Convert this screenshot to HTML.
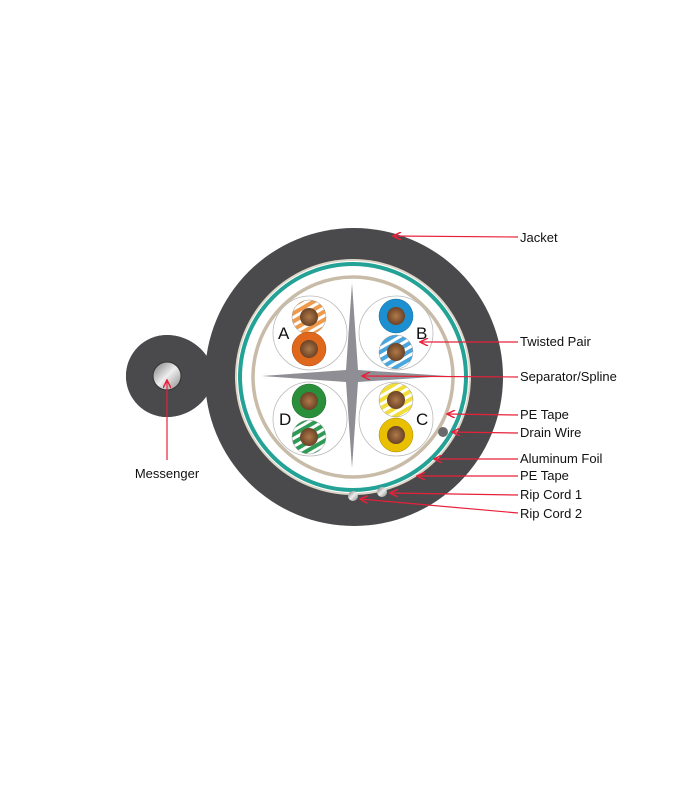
<!DOCTYPE html>
<html><head><meta charset="utf-8"><style>
html,body{margin:0;padding:0;background:#fff;}
svg{display:block;}
text{font-family:"Liberation Sans",sans-serif;}
</style></head><body>
<svg width="700" height="800" viewBox="0 0 700 800" xmlns="http://www.w3.org/2000/svg">
<defs>
<pattern id="stO" width="7" height="7" patternUnits="userSpaceOnUse" patternTransform="rotate(-30)"><rect width="7" height="7" fill="#ef9a4a"/><rect width="7" height="3" fill="#fff"/></pattern>
<pattern id="stB" width="7" height="7" patternUnits="userSpaceOnUse" patternTransform="rotate(-30)"><rect width="7" height="7" fill="#4aa6dc"/><rect width="7" height="3" fill="#fff"/></pattern>
<pattern id="stG" width="7" height="7" patternUnits="userSpaceOnUse" patternTransform="rotate(-30)"><rect width="7" height="7" fill="#2f9a55"/><rect width="7" height="3" fill="#fff"/></pattern>
<pattern id="stY" width="7" height="7" patternUnits="userSpaceOnUse" patternTransform="rotate(-30)"><rect width="7" height="7" fill="#f2de3a"/><rect width="7" height="3" fill="#fff"/></pattern>
<radialGradient id="cu" cx="0.5" cy="0.5" r="0.5"><stop offset="0" stop-color="#b07a4a"/><stop offset="1" stop-color="#6b4326"/></radialGradient>
<linearGradient id="met" x1="0" y1="0" x2="1" y2="1"><stop offset="0" stop-color="#777"/><stop offset="0.5" stop-color="#eee"/><stop offset="1" stop-color="#888"/></linearGradient>
<marker id="ar" markerWidth="10" markerHeight="8" refX="9" refY="4" orient="auto" markerUnits="userSpaceOnUse"><path d="M1,0 L9,4 L1,8" fill="none" stroke="#e8203a" stroke-width="1.5"/></marker>
</defs>
<path d="M167,335 C185,335 200,345 208,358 L208,394 C200,407 185,417 167,417 A41,41 0 0 1 167,335 Z" fill="#4a4a4c"/>
<circle cx="167" cy="376" r="41" fill="#4a4a4c"/>
<circle cx="167" cy="376" r="14" fill="url(#met)" stroke="#333" stroke-width="1"/>
<circle cx="354" cy="377" r="149" fill="#4a4a4c"/>
<circle cx="353" cy="377" r="118" fill="#ddd6c8"/>
<circle cx="353" cy="377" r="116" fill="#fff"/>
<circle cx="353" cy="377" r="113" fill="none" stroke="#23a295" stroke-width="4"/>
<circle cx="353" cy="377" r="100" fill="none" stroke="#c8bca8" stroke-width="3.5"/>
<g fill="none" stroke="#bbb" stroke-width="0.8">
<circle cx="310" cy="333" r="37"/><circle cx="396" cy="333" r="37"/>
<circle cx="310" cy="419" r="37"/><circle cx="396" cy="419" r="37"/>
</g>
<path d="M352,283 L358,370 L447,376 L358,382 L352,468 L346,382 L262,376 L346,370 Z" fill="#8e8e94"/>
<g stroke="#999" stroke-width="0.5">
<circle cx="309" cy="317" r="17" fill="url(#stO)"/>
<circle cx="309" cy="349" r="17" fill="#e0681c" stroke="#a84510"/>
<circle cx="396" cy="316" r="17" fill="#1b8fd0" stroke="#0d6aa0"/>
<circle cx="396" cy="352" r="17" fill="url(#stB)"/>
<circle cx="309" cy="401" r="17" fill="#2a8f3a" stroke="#1c6a28"/>
<circle cx="309" cy="437" r="17" fill="url(#stG)"/>
<circle cx="396" cy="400" r="17" fill="url(#stY)"/>
<circle cx="396" cy="435" r="17" fill="#e8c000" stroke="#a88600"/>
</g>
<g fill="url(#cu)">
<circle cx="309" cy="317" r="9"/><circle cx="309" cy="349" r="9"/>
<circle cx="396" cy="316" r="9"/><circle cx="396" cy="352" r="9"/>
<circle cx="309" cy="401" r="9"/><circle cx="309" cy="437" r="9"/>
<circle cx="396" cy="400" r="9"/><circle cx="396" cy="435" r="9"/>
</g>
<g font-size="17" fill="#111">
<text x="278" y="339">A</text><text x="416" y="339">B</text>
<text x="279" y="425">D</text><text x="416" y="425">C</text>
</g>
<circle cx="443" cy="432" r="5" fill="#6a6a6c"/>
<circle cx="353" cy="496" r="5" fill="url(#met)"/>
<circle cx="382" cy="492" r="5" fill="url(#met)"/>
<g stroke="#e8203a" stroke-width="1.2" fill="none" marker-end="url(#ar)">
<line x1="518" y1="237" x2="393" y2="236"/>
<line x1="518" y1="342" x2="420" y2="342"/>
<line x1="518" y1="377" x2="362" y2="376"/>
<line x1="518" y1="415" x2="447" y2="414"/>
<line x1="518" y1="433" x2="452" y2="432"/>
<line x1="518" y1="459" x2="434" y2="459"/>
<line x1="518" y1="476" x2="417" y2="476"/>
<line x1="518" y1="495" x2="390" y2="493"/>
<line x1="518" y1="513" x2="360" y2="499"/>
<line x1="167" y1="460" x2="167" y2="380"/>
</g>
<g font-size="13" fill="#111">
<text x="520" y="242">Jacket</text>
<text x="520" y="346">Twisted Pair</text>
<text x="520" y="381">Separator/Spline</text>
<text x="520" y="419">PE Tape</text>
<text x="520" y="437">Drain Wire</text>
<text x="520" y="463">Aluminum Foil</text>
<text x="520" y="480">PE Tape</text>
<text x="520" y="499">Rip Cord 1</text>
<text x="520" y="518">Rip Cord 2</text>
<text x="167" y="478" text-anchor="middle">Messenger</text>
</g>
</svg>
</body></html>
